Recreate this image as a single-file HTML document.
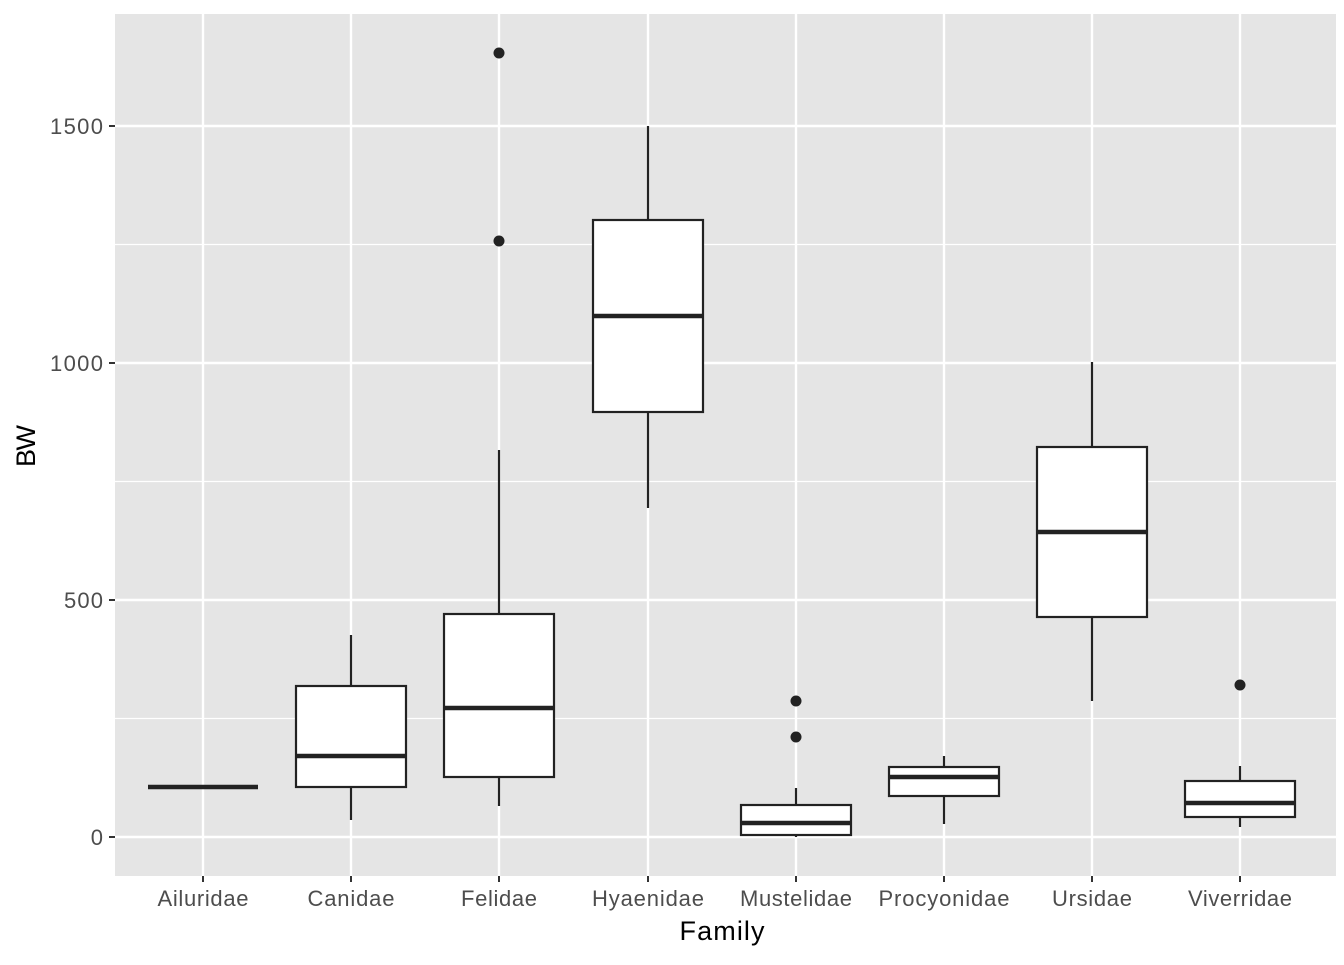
<!DOCTYPE html>
<html><head><meta charset="utf-8"><style>body{margin:0;background:#fff}</style></head><body>
<svg width="1344" height="960" xmlns="http://www.w3.org/2000/svg" font-family="Liberation Sans, sans-serif">
<rect width="1344" height="960" fill="#fff"/>
<rect x="115" y="14" width="1221" height="862" fill="#e5e5e5"/>
<g stroke="#fff" stroke-width="1.2">
<line x1="115" x2="1336" y1="718.5" y2="718.5"/><line x1="115" x2="1336" y1="481.5" y2="481.5"/><line x1="115" x2="1336" y1="244.5" y2="244.5"/>
</g>
<g stroke="#fff" stroke-width="2.4">
<line x1="115" x2="1336" y1="837" y2="837"/><line x1="115" x2="1336" y1="600" y2="600"/><line x1="115" x2="1336" y1="363" y2="363"/><line x1="115" x2="1336" y1="126" y2="126"/>
<line x1="203" x2="203" y1="14" y2="876"/><line x1="351" x2="351" y1="14" y2="876"/><line x1="499" x2="499" y1="14" y2="876"/><line x1="648" x2="648" y1="14" y2="876"/><line x1="796" x2="796" y1="14" y2="876"/><line x1="944" x2="944" y1="14" y2="876"/><line x1="1092" x2="1092" y1="14" y2="876"/><line x1="1240" x2="1240" y1="14" y2="876"/>
</g>
<g stroke="#222" stroke-width="2.2" fill="#fff">
<line x1="148" x2="258" y1="787" y2="787" stroke-width="4.5"/>
<line x1="351" x2="351" y1="635" y2="820"/><rect x="296" y="686" width="110" height="101"/><line x1="296" x2="406" y1="756" y2="756" stroke-width="4.5"/>
<line x1="499" x2="499" y1="450" y2="806"/><rect x="444" y="614" width="110" height="163"/><line x1="444" x2="554" y1="708" y2="708" stroke-width="4.5"/>
<line x1="648" x2="648" y1="126" y2="508"/><rect x="593" y="220" width="110" height="192"/><line x1="593" x2="703" y1="316" y2="316" stroke-width="4.5"/>
<line x1="796" x2="796" y1="788" y2="837"/><rect x="741" y="805" width="110" height="30"/><line x1="741" x2="851" y1="823" y2="823" stroke-width="4.5"/>
<line x1="944" x2="944" y1="756" y2="824"/><rect x="889" y="767" width="110" height="29"/><line x1="889" x2="999" y1="777" y2="777" stroke-width="4.5"/>
<line x1="1092" x2="1092" y1="362" y2="701"/><rect x="1037" y="447" width="110" height="170"/><line x1="1037" x2="1147" y1="532" y2="532" stroke-width="4.5"/>
<line x1="1240" x2="1240" y1="766" y2="827"/><rect x="1185" y="781" width="110" height="36"/><line x1="1185" x2="1295" y1="803" y2="803" stroke-width="4.5"/>
</g>
<g fill="#222">
<circle cx="499" cy="53" r="5.5"/><circle cx="499" cy="241" r="5.5"/><circle cx="796" cy="701" r="5.5"/><circle cx="796" cy="737" r="5.5"/><circle cx="1240" cy="685" r="5.5"/>
</g>
<g stroke="#333" stroke-width="2">
<line x1="109" x2="115" y1="837" y2="837"/><line x1="109" x2="115" y1="600" y2="600"/><line x1="109" x2="115" y1="363" y2="363"/><line x1="109" x2="115" y1="126" y2="126"/>
<line x1="203" x2="203" y1="876" y2="882"/><line x1="351" x2="351" y1="876" y2="882"/><line x1="499" x2="499" y1="876" y2="882"/><line x1="648" x2="648" y1="876" y2="882"/><line x1="796" x2="796" y1="876" y2="882"/><line x1="944" x2="944" y1="876" y2="882"/><line x1="1092" x2="1092" y1="876" y2="882"/><line x1="1240" x2="1240" y1="876" y2="882"/>
</g>
<g fill="#4d4d4d" font-size="22" text-anchor="end">
<text x="103" y="845" textLength="13">0</text><text x="103" y="608" textLength="39">500</text><text x="103" y="371" textLength="53">1000</text><text x="103" y="134" textLength="53">1500</text>
</g>
<g fill="#4d4d4d" font-size="22" text-anchor="middle">
<text x="203" y="906" textLength="91">Ailuridae</text><text x="351" y="906" textLength="87">Canidae</text><text x="499" y="906" textLength="76">Felidae</text><text x="648" y="906" textLength="112">Hyaenidae</text><text x="796" y="906" textLength="112">Mustelidae</text><text x="944" y="906" textLength="131">Procyonidae</text><text x="1092" y="906" textLength="80">Ursidae</text><text x="1240" y="906" textLength="104">Viverridae</text>
</g>
<text x="722" y="940" font-size="27" text-anchor="middle" fill="#000" textLength="85">Family</text>
<text transform="translate(35,446) rotate(-90)" font-size="27" text-anchor="middle" fill="#000" textLength="42">BW</text>
</svg>
</body></html>
